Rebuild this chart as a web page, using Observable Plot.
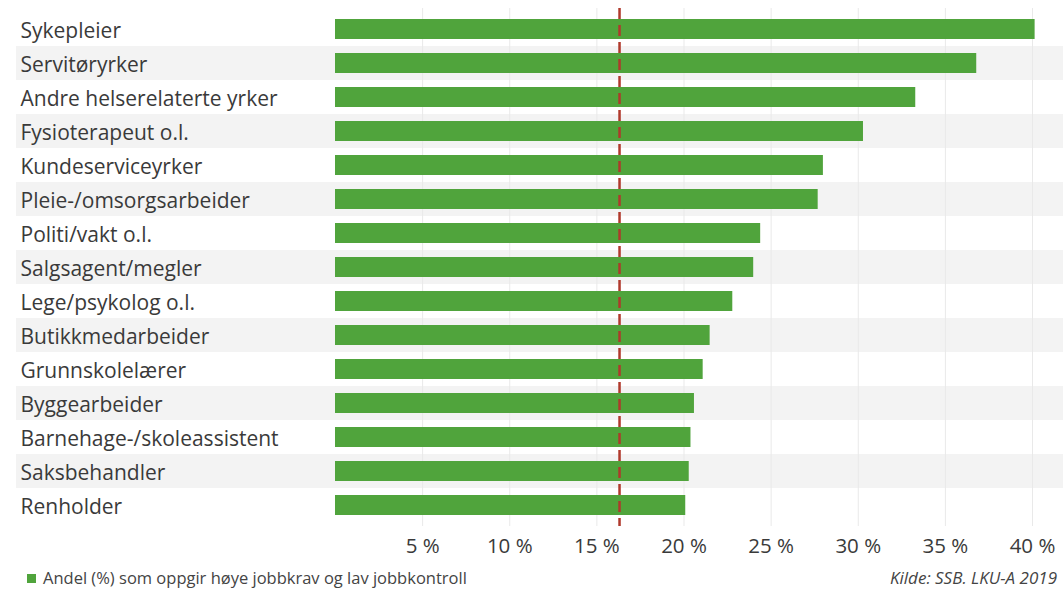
<!DOCTYPE html>
<html>
<head>
<meta charset="utf-8">
<script src="https://cdn.jsdelivr.net/npm/d3@7"></script>
<script src="https://cdn.jsdelivr.net/npm/@observablehq/plot@0.6"></script>
<style>
  html, body { margin: 0; padding: 0; background: #fff; }
  #wrap { width: 1063px; height: 590px; position: relative; font-family: "Open Sans", Lato, sans-serif; color: #3a3a3a; overflow: hidden; }
  #legend { position: absolute; left: 27px; top: 566px; font-size: 16.5px; line-height: 24px; display: flex; align-items: center; color: #444; }
  #legend .sw { width: 9px; height: 9px; background: #50a43c; margin-right: 7px; }
  #source { position: absolute; right: 6px; top: 569px; font-size: 17px; line-height: 17px; font-style: italic; color: #444; }
</style>
</head>
<body>
<div id="wrap"></div>
<script>
const categories = [
  "Sykepleier",
  "Servitøryrker",
  "Andre helserelaterte yrker",
  "Fysioterapeut o.l.",
  "Kundeserviceyrker",
  "Pleie-/omsorgsarbeider",
  "Politi/vakt o.l.",
  "Salgsagent/megler",
  "Lege/psykolog o.l.",
  "Butikkmedarbeider",
  "Grunnskolelærer",
  "Byggearbeider",
  "Barnehage-/skoleassistent",
  "Saksbehandler",
  "Renholder"
];
const values = [40.15, 36.8, 33.3, 30.3, 28.0, 27.7, 24.4, 24.0, 22.8, 21.5, 21.1, 20.6, 20.4, 20.3, 20.1];
const referenceValue = 16.3;
const ticks = [5, 10, 15, 20, 25, 30, 35, 40];
const tickLabels = ["5 %", "10 %", "15 %", "20 %", "25 %", "30 %", "35 %", "40 %"];
const legendLabel = "Andel (%) som oppgir høye jobbkrav og lav jobbkontroll";
const sourceLabel = "Kilde: SSB. LKU-A 2019";

const data = categories.map((c, i) => ({occupation: c, share: values[i], stripe: i % 2 === 1}));

const chart = Plot.plot({
  width: 1063,
  height: 562,
  marginLeft: 335,
  marginRight: 31,
  marginTop: 8,
  marginBottom: 36,
  style: {fontFamily: "'Open Sans', Lato, sans-serif", color: "#3a3a3a", background: "#fff"},
  x: {domain: [0, 40], label: null},
  y: {domain: categories, padding: 0, axis: null},
  marks: [
    Plot.cell(data.filter(d => d.stripe), {y: "occupation", fill: "#f3f3f3", insetLeft: -319, insetRight: -31}),
    Plot.gridX(ticks, {stroke: "#e9e9e9", strokeOpacity: 1, strokeWidth: 1}),
    Plot.barX(data, {y: "occupation", x: "share", fill: "#50a43c", insetTop: 7, insetBottom: 7}),
    Plot.ruleX([referenceValue], {stroke: "#b0392c", strokeWidth: 2.5, strokeDasharray: "11,6"}),
    Plot.text(data, {y: "occupation", text: "occupation", frameAnchor: "left", textAnchor: "start", dx: -315, dy: 1.5, fontSize: 21, fill: "#3a3a3a"}),
    Plot.axisX(ticks, {label: null, tickFormat: d => tickLabels[ticks.indexOf(d)], tickSize: 0, tickPadding: 12, fontSize: 20.5, fill: "#3a3a3a"})
  ]
});

const wrap = document.getElementById("wrap");
wrap.appendChild(chart);
const legend = document.createElement("div");
legend.id = "legend";
legend.innerHTML = '<span class="sw"></span><span></span>';
legend.lastChild.textContent = legendLabel;
wrap.appendChild(legend);
const src = document.createElement("div");
src.id = "source";
src.textContent = sourceLabel;
wrap.appendChild(src);
</script>
</body>
</html>
